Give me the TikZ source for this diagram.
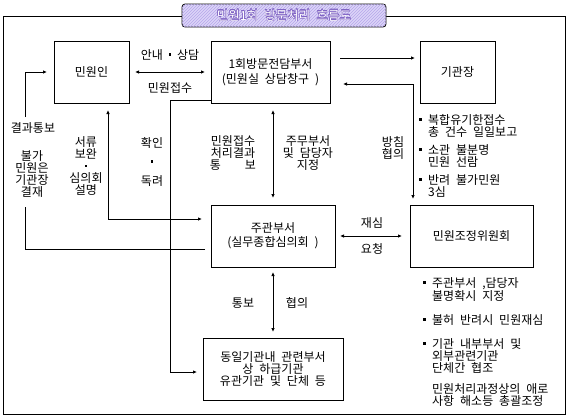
\documentclass[tikz,border=0pt]{standalone}
\usepackage{fontspec}
\setmainfont{Noto Sans CJK KR}[WordSpace=2.2]
\usepackage[copies]{contour}
\contourlength{0.35pt}
\contournumber{16}
\usetikzlibrary{positioning, arrows.meta, patterns}
\definecolor{ink}{RGB}{0,0,0}
\definecolor{lilac}{RGB}{220,212,248}
\definecolor{lilacline}{RGB}{182,166,234}
\definecolor{lilacdeep}{RGB}{128,100,196}
\newcommand{\sqdot}{\rule[0.3em]{2.4pt}{2.4pt}}
\newcommand{\bul}{\makebox[9pt][l]{\sqdot}}
\newcommand{\ind}{\hspace*{9pt}}

\begin{document}
\begin{tikzpicture}[x=1pt, y=-1pt, font=\fontsize{12}{12}\selectfont]
  \tikzset{
    box/.style={draw=ink, line width=0.8pt, inner sep=0pt, outer sep=0pt, align=center},
    link/.style={draw=ink, line width=0.8pt},
    arr/.style={link, -{Latex[length=4pt, width=3.5pt]}},
    dbl/.style={link, {Latex[length=4pt, width=3.5pt]}-{Latex[length=4pt, width=3.5pt]}},
    lbl/.style={align=center, inner sep=0pt},
    note/.style={align=left, inner sep=0pt, anchor=north west}}

  \useasboundingbox (0,0) rectangle (568,418);

  % --- frame and title
  \draw[ink, line width=1pt] (3,16) rectangle (565,414);
  \node[draw=ink, line width=0.8pt, rounded corners=3pt, fill=lilac,
        postaction={pattern=north east lines, pattern color=lilacline},
        minimum width=204pt, minimum height=23pt, font=\fontsize{12.5}{12.5}\selectfont]
    (title) at (284,15.5) {\contour{lilacdeep}{\textcolor{white}{민원1회 방문처리 흐름도}}};

  % --- the offices
  \node[box, minimum width=75pt, minimum height=62pt] (minwon) at (91.5,72) {민원인};
  \node[box, minimum width=119pt, minimum height=62pt] (jeondam) at (270.5,72)
    {1회방문전담부서\\[3pt](민원실 상담창구 )};
  \node[box, minimum width=75pt, minimum height=62pt] (chief) at (457.5,72) {기관장};
  \node[box, minimum width=124pt, minimum height=62pt] (jugwan) at (273,236)
    {주관부서\\[2pt](실무종합심의회 )};
  \node[box, minimum width=123pt, minimum height=62pt] (council) at (471.5,236) {민원조정위원회};
  \node[box, minimum width=140pt, minimum height=62pt] (related) at (273,369)
    {동일기관내 관련부서\\상 하급기관\\유관기관 및 단체 등};

  % --- connectors
  \draw[dbl, shorten <=6pt, shorten >=6pt] (minwon) -- (jeondam);
  \coordinate (intakebend) at (170,100);
  \draw[arr, shorten >=6pt] ([yshift=3pt]jeondam.south west) -- (intakebend) |- ([yshift=-3pt]related.west);
  \draw[arr, shorten <=10pt, shorten >=5pt] ([yshift=14pt]jeondam.east) -- ([yshift=14pt]chief.west);
  \draw[dbl, shorten <=13pt, shorten >=6pt] ([yshift=-12pt]jeondam.east) -| ([xshift=3pt]council.north west);
  \draw[dbl, shorten <=7pt, shorten >=7pt] (jugwan.north |- jeondam.south) -- (jugwan.north);
  \draw[dbl, shorten <=5pt, shorten >=8pt] (jugwan.east) -- (council.west);
  \draw[dbl, shorten <=5pt, shorten >=6pt] (jugwan.south) -- (related.north);
  \draw[dbl, shorten <=9pt, shorten >=7pt] ([yshift=17pt]jugwan.west) -| ([xshift=16.5pt]minwon.south);
  \coordinate (reportlow) at (25,207);
  \coordinate (reporthigh) at (25,117);
  \draw[link, shorten <=6pt] ([yshift=-13pt]jugwan.west) -| (reportlow);
  \draw[arr, shorten >=7pt] (reporthigh) |- (minwon.west);

  % --- connector labels
  \node[lbl] (guide) at (170,55) {안내 \sqdot\ 상담};
  \node[lbl] (intake) at (170,88) {민원접수};
  \node[lbl] (report) at (33,128) {결과통보};
  \node[lbl] (chiefok) at (32,174) {불가\\민원은\\기관장\\결재};
  \node[lbl] (supply) at (86,166) {서류\\보완\\\sqdot\\심의회\\설명};
  \node[lbl] (check) at (152,162) {확인\\[7pt]\sqdot\\[7pt]독려};
  \node[lbl] (result) at (233,153) {민원접수\\처리결과\\통\hspace{2em}보};
  \node[lbl] (assign) at (308,153) {주무부서\\및 담당자\\지정};
  \node[lbl] (policy) at (393,148) {방침\\협의};
  \node[lbl] (retry) at (372,223) {재심};
  \node[lbl] (request) at (372,249) {요청};
  \node[lbl] (notify) at (243,303) {통보};
  \node[lbl] (consult) at (297,303) {협의};

  % --- notes beside the chief and the council
  \node[note] (chiefnotes) at (419,114)
    {\bul 복합유기한접수\\\ind 총 건수 일일보고\\[6pt]\bul 소관 불분명\\\ind 민원 선람\\[6pt]\bul 반려 불가민원\\\ind 3심};
  \node[note] (councilnotes) at (423,277)
    {\bul 주관부서 ,담당자\\\ind 불명확시 지정\\[12pt]\bul 불허 반려시 민원재심\\[12pt]\bul 기관 내부부서 및\\\ind 외부관련기관\\\ind 단체간 협조\\[9pt]\ind 민원처리과정상의 애로\\\ind 사항 해소등 총괄조정};
\end{tikzpicture}
\end{document}
